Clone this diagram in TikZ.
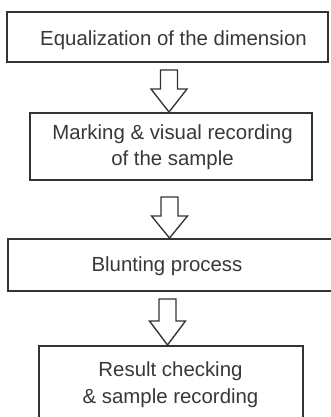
\documentclass[tikz,border=0pt]{standalone}
\usepackage{fontspec}
\setmainfont{Liberation Sans}
\usetikzlibrary{calc}
\definecolor{ink}{HTML}{333333}
\definecolor{txt}{HTML}{383838}
\newcommand\blockarrow[5]{% from, to, dx(px), gap(pt), head(pt)
  \draw[arrowline] let \p1=($(#2.north)+(#3,0)$), \p2=(#1.south) in
    (\x1-6.375pt,\y2-#4) -- (\x1-6.375pt,\y1+#5) -- (\x1-13.5pt,\y1+#5)
    -- (\p1) -- (\x1+13.5pt,\y1+#5) -- (\x1+6.375pt,\y1+#5)
    -- (\x1+6.375pt,\y2-#4) -- cycle;}
\begin{document}
\begin{tikzpicture}[x=0.75pt,y=-0.75pt,
  box/.style={draw=ink,line width=1.5pt,inner sep=0pt,fill=white},
  lbl/.style={text=txt,font=\fontsize{15.3}{20}\selectfont,align=center,inner sep=0pt},
  arrowline/.style={draw=ink,line width=1pt,fill=white,line join=miter}]
\useasboundingbox (0,0) rectangle (331,417);
\clip (0,0) rectangle (331,417);
\fill[white] (0,0) rectangle (331,417);
\node[box,minimum width=240.75pt,minimum height=37.5pt] (b1) at (167.5,37) {};
\node[box,minimum width=211.5pt,minimum height=50.25pt] (b2) at (171,146.5) {};
\node[box,minimum width=256.5pt,minimum height=39pt] (b3) at (179,265) {};
\node[box,minimum width=198pt,minimum height=70.5pt] (b4) at (171,393) {};
\node[lbl] (t1) at (173.5,39.8) {Equalization of the dimension};
\node[lbl] (t2) at (172.5,147.2) {Marking \& visual recording\\of the sample};
\node[lbl] (t3) at (167,266.5) {Blunting process};
\node[lbl] (t4) at (170.5,384.7) {Result checking\\\& sample recording};
\blockarrow{b1}{b2}{-2}{5.25pt}{17.25pt}
\blockarrow{b2}{b3}{-9.5}{12pt}{16.5pt}
\blockarrow{b3}{b4}{-3.5}{5.25pt}{18pt}
\end{tikzpicture}
\end{document}
